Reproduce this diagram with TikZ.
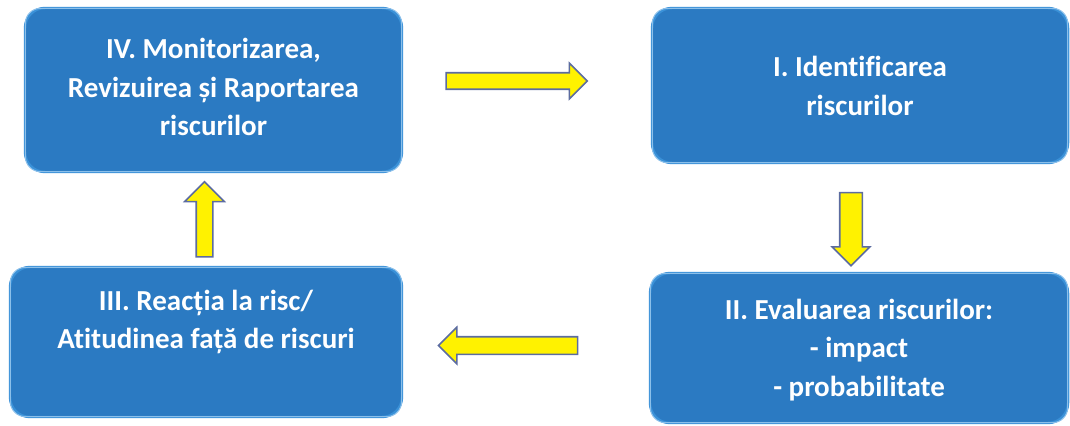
\documentclass[tikz,border=0pt]{standalone}
\usepackage{fontspec}
\setmainfont{Carlito}[Ligatures=NoCommon]
\usetikzlibrary{shapes.arrows}
\definecolor{boxblue}{RGB}{43,122,194}
\definecolor{rimblue}{RGB}{58,145,216}
\definecolor{innerline}{RGB}{140,192,234}
\definecolor{arrowyellow}{RGB}{255,242,0}
\definecolor{arrowedge}{RGB}{92,108,160}
\tikzset{
  riskbox/.style={rectangle, rounded corners=0.4cm, fill=boxblue, draw=rimblue, line width=1.4pt, inner sep=0pt},
  boxtext/.style={align=center, text=white, font=\bfseries\fontsize{16.5}{22}\selectfont, inner sep=0pt},
  innerrim/.style={draw=innerline, line width=0.6pt, rounded corners=0.3cm},
  fatarrow/.style={single arrow, fill=arrowyellow, draw=arrowedge, line width=0.9pt, inner xsep=0pt, single arrow head indent=0pt}
}
\begin{document}
\begin{tikzpicture}[scale=0.2]
\useasboundingbox (0,0) rectangle (107,-42.5);
\node [riskbox, minimum width=7.54cm, minimum height=3.28cm] (iv) at (21.35,-9.0) {};
\node [riskbox, minimum width=8.32cm, minimum height=3.1cm] (i) at (86.0,-8.55) {};
\node [riskbox, minimum width=8.36cm, minimum height=3.0cm] (ii) at (85.9,-34.8) {};
\node [riskbox, minimum width=7.84cm, minimum height=3.0cm] (iii) at (20.6,-34.2) {};
\foreach \b in {i,ii,iii,iv}
  \draw [innerrim] ([shift={(0.16cm,-0.16cm)}]\b.north west) rectangle ([shift={(-0.16cm,0.16cm)}]\b.south east);
\node [boxtext] (ivtext) at (21.35,-8.7) {IV. Monitorizarea,\\Revizuirea și Raportarea\\riscurilor};
\node [boxtext] (itext) at (86.0,-8.6) {I. Identificarea\\riscurilor};
\node [boxtext] (iitext) at (85.9,-35.0) {II. Evaluarea riscurilor:\\- impact\\- probabilitate};
\node [boxtext] (iiitext) at (20.6,-32.2) {III. Reacția la risc/\\Atitudinea față de riscuri};
\node [fatarrow, minimum height=2.82cm, inner ysep=0.15cm, single arrow head extend=0.19cm] (ivtoi) at (51.25,-8.1) {};
\node [fatarrow, rotate=-90, minimum height=1.46cm, inner ysep=0.21cm, single arrow head extend=0.15cm] (itoii) at (85.1,-22.35) {};
\node [fatarrow, rotate=180, minimum height=2.78cm, inner ysep=0.16cm, single arrow head extend=0.19cm] (iitoiii) at (51.25,-34.55) {};
\node [fatarrow, rotate=90, minimum height=1.5cm, inner ysep=0.15cm, single arrow head extend=0.23cm] (iiitoiv) at (20.45,-22.35) {};
\end{tikzpicture}
\end{document}
